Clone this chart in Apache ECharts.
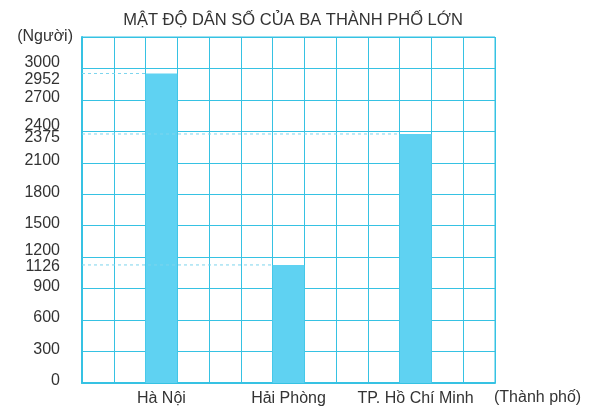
<!DOCTYPE html>
<html>
<head>
<meta charset="utf-8">
<style>
  html, body { margin: 0; padding: 0; background: #fff; }
  #chart { width: 602px; height: 417px; }
</style>
<script src="https://cdn.jsdelivr.net/npm/echarts@6/dist/echarts.min.js"></script>
</head>
<body>
<div id="chart"></div>
<script>
// dữ liệu
const cities = ['Hà Nội', 'Hải Phòng', 'TP. Hồ Chí Minh'];
const density = [2952, 1126, 2375];
const yTicks = [0, 300, 600, 900, 1200, 1500, 1800, 2100, 2400, 2700, 3000];

// bố cục lưới: 13 cột, thành phố ở cột 2, 6, 10
const SLOTS = 13;
const slotOf = i => 2 + 4 * i;
const GRID = '#36c2e3';
const BAR = '#5fd2f2';
const TEXT = '#333';
const FONT = 'Liberation Sans, Arial, sans-serif';

// dịch nhãn lên/xuống để không chồng nhau (px)
const labelShift = { 3000: -6, 2952: 6, 2400: -6, 2375: 4, 1200: -7, 1126: 2 };

const slotNames = [];
const slotValues = [];
for (let s = 0; s < SLOTS; s++) {
    slotNames.push('');
    slotValues.push('-');
}
cities.forEach((c, i) => {
    slotNames[slotOf(i)] = c;
    slotValues[slotOf(i)] = density[i];
});

const rich = {};
const labelValues = yTicks.concat(density);
labelValues.forEach(v => {
    const s = (labelShift[v] || -2);
    rich['v' + v] = {
        fontSize: 16, color: TEXT, fontFamily: FONT,
        padding: [s > 0 ? 2 * s : 0, 0, s < 0 ? -2 * s : 0, 0]
    };
});

// đường nét đứt từ trục tung đến cột
const guideSeries = cities.map((c, i) => ({
    type: 'line',
    xAxisIndex: 1,
    data: [[0, density[i]], [slotOf(i), density[i]]],
    symbol: 'none',
    silent: true,
    z: 5,
    lineStyle: { color: '#7dd5ee', width: 1, type: [3, 3] }
}));

const chart = echarts.init(document.getElementById('chart'));
chart.setOption({
    backgroundColor: '#fff',
    animation: false,
    title: {
        text: 'MẬT ĐỘ DÂN SỐ CỦA BA THÀNH PHỐ LỚN',
        left: 288,
        top: 7,
        textAlign: 'center',
        textStyle: { fontSize: 16.5, fontWeight: 'normal', color: TEXT, fontFamily: FONT }
    },
    grid: {
        left: 82, right: 107, top: 37, bottom: 34,
        show: true, borderColor: GRID, borderWidth: 1
    },
    xAxis: [{
        type: 'category',
        data: slotNames,
        name: '{n|(Thành phố)}',
        nameLocation: 'end',
        nameGap: -1,
        nameTextStyle: {
            align: 'left', verticalAlign: 'middle',
            rich: { n: { fontSize: 16, color: TEXT, fontFamily: FONT, padding: [30, 0, 0, 0] } }
        },
        axisLine: { lineStyle: { color: GRID, width: 2 } },
        axisTick: { show: false },
        axisLabel: { interval: 0, fontSize: 16, color: TEXT, fontFamily: FONT, margin: 8 },
        splitLine: { show: true, interval: 0, lineStyle: { color: GRID, width: 1 } }
    }, {
        type: 'value',
        min: 0,
        max: SLOTS,
        show: false
    }],
    yAxis: {
        type: 'value',
        min: 0,
        max: 3300,
        interval: 300,
        name: '(Người)',
        nameLocation: 'end',
        nameGap: 0,
        nameTextStyle: { fontSize: 16, color: TEXT, fontFamily: FONT, align: 'right', verticalAlign: 'middle', padding: [0, 9, 0, 0] },
        axisLine: { show: true, lineStyle: { color: GRID, width: 2 } },
        axisTick: { show: false },
        axisLabel: {
            customValues: labelValues,
            margin: 22,
            formatter: v => (rich['v' + v] ? '{v' + v + '|' + v + '}' : ''),
            rich: rich
        },
        splitLine: { show: true, lineStyle: { color: GRID, width: 1 } }
    },
    series: [{
        type: 'bar',
        data: slotValues,
        barWidth: '100%',
        itemStyle: { color: BAR },
        z: 2
    }].concat(guideSeries)
});
</script>
</body>
</html>
